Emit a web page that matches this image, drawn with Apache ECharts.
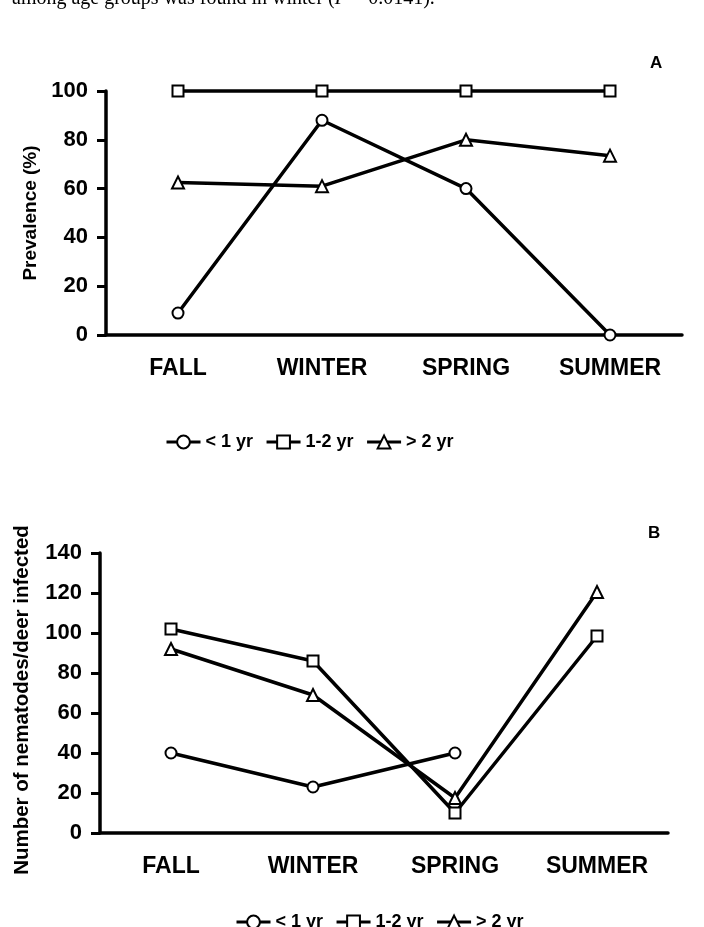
<!DOCTYPE html>
<html>
<head>
<meta charset="utf-8">
<style>
  html, body { margin: 0; padding: 0; background: #fff; }
  #main { width: 704px; height: 927px; }
</style>
<script src="https://cdn.jsdelivr.net/npm/echarts@6/dist/echarts.min.js"></script>
</head>
<body>
<div id="main"></div>
<script>
// seasons and age groups
var seasons = ['FALL', 'WINTER', 'SPRING', 'SUMMER'];
var ageGroups = ['< 1 yr', '1-2 yr', '> 2 yr'];
var ageSymbols = ['circle', 'rect', 'triangle'];

// panel A: prevalence (%)
var prevLt1 = [9, 88, 60, 0];
var prev12 = [100, 100, 100, 100];
var prevGt2 = [62.5, 61, 80, 73.5];

// panel B: nematodes per infected deer
var numLt1 = [40, 23, 40, null];
var num12 = [102, 86, 10, 98.5];
var numGt2 = [92, 69, 17.5, 120.5];

var FONT = '"Liberation Sans", Arial, sans-serif';

function mkSeries(name, sym, data, idx) {
  return {
    name: name,
    type: 'line',
    xAxisIndex: idx,
    yAxisIndex: idx,
    data: data,
    symbol: sym,
    symbolSize: sym === 'triangle' ? 12 : 11,
    clip: false,
    connectNulls: false,
    lineStyle: { color: '#000', width: 3.5 },
    itemStyle: { color: '#fff', borderColor: '#000', borderWidth: 2 },
    emphasis: { disabled: true }
  };
}

function mkX(idx) {
  return {
    type: 'category',
    gridIndex: idx,
    data: seasons,
    boundaryGap: true,
    axisLine: { lineStyle: { color: '#000', width: 3.5 } },
    axisTick: { length: 9, lineStyle: { color: '#000', width: 3 } },
    axisLabel: { margin: 22, color: '#000', fontFamily: FONT, fontWeight: 'bold', fontSize: 23 },
    splitLine: { show: false }
  };
}

function mkY(idx, max, name, gap, nameSize, namePad) {
  return {
    type: 'value',
    gridIndex: idx,
    min: 0,
    max: max,
    interval: 20,
    name: name,
    nameLocation: 'middle',
    nameGap: gap,
    nameTextStyle: { color: '#000', fontFamily: FONT, fontWeight: 'bold', fontSize: nameSize, padding: namePad },
    axisLine: { show: true, lineStyle: { color: '#000', width: 3.5 } },
    axisTick: { show: true, length: 9, lineStyle: { color: '#000', width: 3 } },
    axisLabel: { margin: 18, color: '#000', fontFamily: FONT, fontWeight: 'bold', fontSize: 22 },
    splitLine: { show: false }
  };
}

function mkLegend(left, top) {
  return {
    data: ageGroups,
    left: left,
    top: top,
    itemWidth: 34,
    itemHeight: 16,
    itemGap: 12,
    selectedMode: false,
    lineStyle: { color: '#000', width: 3 },
    itemStyle: { color: '#fff', borderColor: '#000', borderWidth: 2 },
    textStyle: { color: '#000', fontFamily: FONT, fontWeight: 'bold', fontSize: 18 }
  };
}

var chart = echarts.init(document.getElementById('main'));
chart.setOption({
  backgroundColor: '#fff',
  animation: false,
  grid: [
    { left: 106, right: 22, top: 91, height: 244 },
    { left: 100, right: 36, top: 553, height: 280 }
  ],
  xAxis: [mkX(0), mkX(1)],
  yAxis: [
    mkY(0, 100, 'Prevalence (%)', 62, 19, 0),
    mkY(1, 140, 'Number of nematodes/deer infected', 67, 20.5, [0, 14, 0, 0])
  ],
  legend: [mkLegend(160, 428), mkLegend(230, 908)],
  graphic: [
    {
      type: 'text', left: 12, top: -11,
      style: {
        text: 'among age groups was found in winter ({i|P} = 0.0141).',
        font: '20px "Liberation Serif", "Times New Roman", serif',
        fill: '#000',
        rich: { i: { fontStyle: 'italic', fontFamily: '"Liberation Serif", serif', fontSize: 20 } }
      }
    },
    { type: 'text', left: 650, top: 55, style: { text: 'A', font: 'bold 17px ' + FONT, fill: '#000' } },
    { type: 'text', left: 648, top: 525, style: { text: 'B', font: 'bold 17px ' + FONT, fill: '#000' } }
  ],
  series: [
    mkSeries(ageGroups[0], ageSymbols[0], prevLt1, 0),
    mkSeries(ageGroups[1], ageSymbols[1], prev12, 0),
    mkSeries(ageGroups[2], ageSymbols[2], prevGt2, 0),
    mkSeries(ageGroups[0], ageSymbols[0], numLt1, 1),
    mkSeries(ageGroups[1], ageSymbols[1], num12, 1),
    mkSeries(ageGroups[2], ageSymbols[2], numGt2, 1)
  ]
});
</script>
</body>
</html>
